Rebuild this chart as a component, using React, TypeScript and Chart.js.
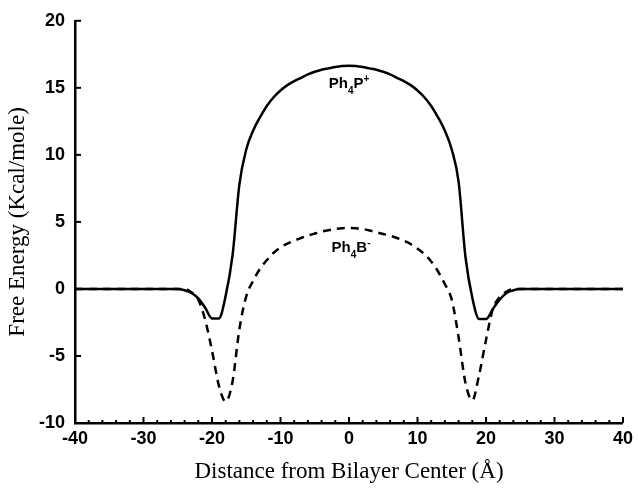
import { useEffect, useRef } from 'react';
import { Chart, registerables } from 'chart.js';

Chart.register(...registerables);

// distance from bilayer center (Å)
const distances = [
  -40, -30, -26, -25, -24, -23, -22, -21, -20, -19, -18, -17, -16, -15, -14, -13, -12, -11, -10, -9, -8, -7, -6, -5, -4, -3, -2, -1,
  0, 1, 2, 3, 4, 5, 6, 7, 8, 9, 10, 11, 12, 13, 14, 15, 16, 17, 18, 19, 20, 21, 22, 23, 24, 25, 26, 30, 40,
];

// free energy, Kcal/mole
const ph4pEnergy = [
  0, 0, 0, 0, -0.1, -0.3, -0.7, -1.4, -2.2, -2.2, -0.5, 2.5, 7.8, 10.4, 11.8, 12.8, 13.65, 14.3, 14.8, 15.2, 15.5, 15.75, 16.0, 16.2, 16.35, 16.45, 16.55, 16.62,
  16.65, 16.62, 16.55, 16.45, 16.35, 16.2, 16.0, 15.75, 15.5, 15.2, 14.8, 14.3, 13.65, 12.8, 11.8, 10.4, 8.0, 2.4, -0.65, -2.25, -2.25, -1.5, -0.8, -0.3, -0.1, 0, 0, 0, 0,
];

const ph4bEnergy = [
  0, 0, 0, 0, 0, -0.25, -0.8, -2.3, -4.6, -7.2, -8.4, -6.9, -3.0, -0.55, 0.6, 1.5, 2.15, 2.7, 3.1, 3.38, 3.6, 3.8, 3.98, 4.13, 4.27, 4.38, 4.47, 4.53,
  4.55, 4.53, 4.47, 4.36, 4.22, 4.1, 3.97, 3.8, 3.6, 3.35, 3.0, 2.6, 2.05, 1.3, 0.35, -0.8, -3.6, -7.0, -8.3, -6.4, -3.8, -1.5, -0.6, -0.2, 0, 0, 0, 0, 0,
];

const xTickValues = [-40, -30, -20, -10, 0, 10, 20, 30, 40];
const yTickValues = [-10, -5, 0, 5, 10, 15, 20];

const tickFont = { family: '"Liberation Sans", Arial, sans-serif', size: 18, weight: 'bold' as const };
const titleFont = { family: '"Liberation Serif", "Times New Roman", serif', size: 23 };

// inward tick marks and the curve labels
const decorations = {
  id: 'decorations',
  afterDraw(chart: Chart) {
    const { ctx, chartArea, scales } = chart;
    const x = scales.x;
    const y = scales.y;
    ctx.save();
    ctx.strokeStyle = '#000';
    ctx.lineWidth = 2;
    for (let v = -40; v <= 40; v += 2) {
      const px = x.getPixelForValue(v);
      const len = v % 10 === 0 ? 6 : 3;
      ctx.beginPath();
      ctx.moveTo(px, chartArea.bottom);
      ctx.lineTo(px, chartArea.bottom - len);
      ctx.stroke();
    }
    for (const v of yTickValues) {
      const py = y.getPixelForValue(v);
      ctx.beginPath();
      ctx.moveTo(chartArea.left, py);
      ctx.lineTo(chartArea.left + 6, py);
      ctx.stroke();
    }

    const label = (base: string, sub: string, tail: string, sup: string, vx: number, vy: number) => {
      const big = 'bold 15px "Liberation Sans", Arial, sans-serif';
      const small = 'bold 10px "Liberation Sans", Arial, sans-serif';
      ctx.font = big;
      const w1 = ctx.measureText(base).width;
      const w3 = ctx.measureText(tail).width;
      ctx.font = small;
      const w2 = ctx.measureText(sub).width;
      const w4 = ctx.measureText(sup).width;
      let cx = x.getPixelForValue(vx) - (w1 + w2 + w3 + w4) / 2;
      const cy = y.getPixelForValue(vy);
      ctx.fillStyle = '#000';
      ctx.textBaseline = 'middle';
      ctx.textAlign = 'left';
      ctx.font = big;
      ctx.fillText(base, cx, cy);
      cx += w1;
      ctx.font = small;
      ctx.fillText(sub, cx, cy + 7);
      cx += w2;
      ctx.font = big;
      ctx.fillText(tail, cx, cy);
      cx += w3;
      ctx.font = small;
      ctx.fillText(sup, cx, cy - 5);
    };
    label('Ph', '4', 'P', '+', 0, 15.3);
    label('Ph', '4', 'B', '-', 0.3, 3.05);
    ctx.restore();
  },
};

const App = () => {
  const canvasRef = useRef<HTMLCanvasElement>(null);
  const chartRef = useRef<Chart | null>(null);

  useEffect(() => {
    if (!canvasRef.current) return;
    if (chartRef.current) chartRef.current.destroy();

    chartRef.current = new Chart(canvasRef.current, {
      type: 'line',
      data: {
        datasets: [
          {
            label: 'Ph4P+',
            data: distances.map((d, i) => ({ x: d, y: ph4pEnergy[i] })),
            borderColor: '#000',
            borderWidth: 2.5,
            pointRadius: 0,
            cubicInterpolationMode: 'monotone',
          },
          {
            label: 'Ph4B-',
            data: distances.map((d, i) => ({ x: d, y: ph4bEnergy[i] })),
            borderColor: '#000',
            borderWidth: 2.5,
            borderDash: [8, 6],
            pointRadius: 0,
            cubicInterpolationMode: 'monotone',
          },
        ],
      },
      options: {
        animation: false,
        responsive: true,
        maintainAspectRatio: false,
        layout: { padding: { top: 20, right: 9, left: 0, bottom: 0 } },
        plugins: { legend: { display: false }, tooltip: { enabled: false } },
        scales: {
          x: {
            type: 'linear',
            min: -40,
            max: 40,
            afterBuildTicks: (scale) => {
              scale.ticks = xTickValues.map((v) => ({ value: v }));
            },
            afterFit: (scale) => {
              scale.height = 65;
            },
            grid: { display: true, drawOnChartArea: false, drawTicks: false },
            border: { display: true, color: '#000', width: 2.5 },
            ticks: { color: '#000', font: tickFont, padding: 5, maxRotation: 0 },
            title: {
              display: true,
              text: 'Distance from Bilayer Center (Å)',
              color: '#000',
              font: titleFont,
              padding: { top: 0, bottom: 2 },
            },
          },
          y: {
            type: 'linear',
            min: -10,
            max: 20,
            afterBuildTicks: (scale) => {
              scale.ticks = yTickValues.map((v) => ({ value: v }));
            },
            afterFit: (scale) => {
              scale.width = 75;
            },
            grid: { display: true, drawOnChartArea: false, drawTicks: false },
            border: { display: true, color: '#000', width: 2.5 },
            ticks: { color: '#000', font: tickFont, padding: 10 },
            title: {
              display: true,
              text: 'Free Energy (Kcal/mole)',
              color: '#000',
              font: titleFont,
              padding: { top: 4, bottom: 0 },
            },
          },
        },
      },
      plugins: [decorations],
    });

    return () => {
      if (chartRef.current) {
        chartRef.current.destroy();
        chartRef.current = null;
      }
    };
  }, []);

  return (
    <div style={{ position: 'absolute', left: 0, top: 0, width: 638, height: 488, background: '#fff' }}>
      <canvas ref={canvasRef}></canvas>
    </div>
  );
};

export default App;
